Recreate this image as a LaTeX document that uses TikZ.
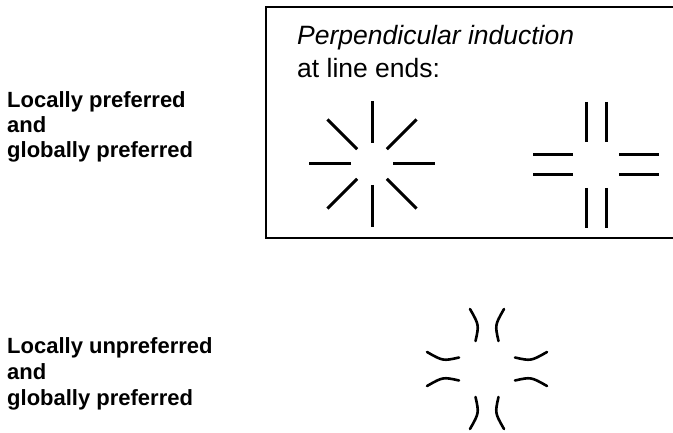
\documentclass[tikz,border=0pt]{standalone}
\usepackage{fontspec}
\setmainfont{Liberation Sans}
\usetikzlibrary{calc}

\tikzset{
  sidelabel/.style={anchor=base west, inner sep=0pt, font=\fontsize{22}{24}\selectfont\bfseries},
  boxlabel/.style={anchor=base west, inner sep=0pt, font=\fontsize{26.5}{30}\selectfont},
  boxline/.style={line width=2pt},
  spoke/.style={line width=3pt},
  bowline/.style={line width=2.6pt, line cap=round}
}

\begin{document}
\begin{tikzpicture}[x=1pt, y=-1pt]
  \useasboundingbox (0,0) rectangle (673,433);

  % left side texts
  \node[sidelabel] (pref1) at (7,108) {Locally preferred};
  \node[sidelabel] (pref2) at (7,133) {and};
  \node[sidelabel] (pref3) at (7,158) {globally preferred};

  \node[sidelabel] (unpref1) at (7,353) {Locally unpreferred};
  \node[sidelabel] (unpref2) at (7,379) {and};
  \node[sidelabel] (unpref3) at (7,405) {globally preferred};

  % frame, open to the right
  \draw[boxline] (676,7) -- (266,7) -- (266,238) -- (676,238);
  \node[boxlabel, font=\fontsize{26.5}{30}\selectfont\itshape] (title1) at (297,45) {Perpendicular induction};
  \node[boxlabel] (title2) at (297,78) {at line ends:};

  % star of line ends
  \coordinate (star) at (372,164);
  \draw[spoke] ($(star)+(0:21)$) -- ($(star)+(0:63)$);
  \draw[spoke] ($(star)+(45:21)$) -- ($(star)+(45:63)$);
  \draw[spoke] ($(star)+(90:21)$) -- ($(star)+(90:63)$);
  \draw[spoke] ($(star)+(135:21)$) -- ($(star)+(135:63)$);
  \draw[spoke] ($(star)+(180:21)$) -- ($(star)+(180:63)$);
  \draw[spoke] ($(star)+(225:21)$) -- ($(star)+(225:63)$);
  \draw[spoke] ($(star)+(270:21)$) -- ($(star)+(270:63)$);
  \draw[spoke] ($(star)+(315:21)$) -- ($(star)+(315:63)$);

  % double bars
  \coordinate (twin) at (596,165);
  \draw[spoke] ($(twin)+(-10,-63)$) -- ($(twin)+(-10,-23)$);
  \draw[spoke] ($(twin)+(10,-63)$) -- ($(twin)+(10,-23)$);
  \draw[spoke] ($(twin)+(-10,23)$) -- ($(twin)+(-10,63)$);
  \draw[spoke] ($(twin)+(10,23)$) -- ($(twin)+(10,63)$);
  \draw[spoke] ($(twin)+(-63,-10)$) -- ($(twin)+(-23,-10)$);
  \draw[spoke] ($(twin)+(-63,10)$) -- ($(twin)+(-23,10)$);
  \draw[spoke] ($(twin)+(23,-10)$) -- ($(twin)+(63,-10)$);
  \draw[spoke] ($(twin)+(23,10)$) -- ($(twin)+(63,10)$);

  % curved line ends
  \coordinate (bow) at (487,369);
  \draw[bowline] ($(bow)+(-17,-60)$) .. controls ($(bow)+(-7.9,-44)$) .. ($(bow)+(-11.5,-28)$);
  \draw[bowline] ($(bow)+(17,-60)$) .. controls ($(bow)+(7.9,-44)$) .. ($(bow)+(11.5,-28)$);
  \draw[bowline] ($(bow)+(-17,60)$) .. controls ($(bow)+(-7.9,44)$) .. ($(bow)+(-11.5,28)$);
  \draw[bowline] ($(bow)+(17,60)$) .. controls ($(bow)+(7.9,44)$) .. ($(bow)+(11.5,28)$);
  \draw[bowline] ($(bow)+(-60,-17)$) .. controls ($(bow)+(-44,-7.9)$) .. ($(bow)+(-28,-11.5)$);
  \draw[bowline] ($(bow)+(-60,17)$) .. controls ($(bow)+(-44,7.9)$) .. ($(bow)+(-28,11.5)$);
  \draw[bowline] ($(bow)+(60,-17)$) .. controls ($(bow)+(44,-7.9)$) .. ($(bow)+(28,-11.5)$);
  \draw[bowline] ($(bow)+(60,17)$) .. controls ($(bow)+(44,7.9)$) .. ($(bow)+(28,11.5)$);
\end{tikzpicture}
\end{document}
